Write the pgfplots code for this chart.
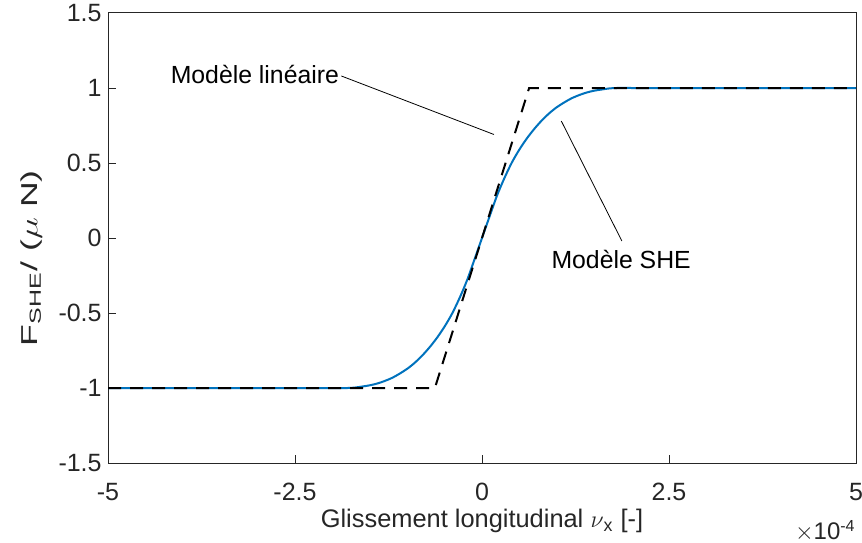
\documentclass[border=0pt]{standalone}
\usepackage{pgfplots}
\pgfplotsset{compat=1.18}
\usetikzlibrary{calc}
\usepackage{fontspec}
\setmainfont{Liberation Sans}
\definecolor{mblue}{rgb}{0,0.447,0.741}
\definecolor{axgray}{rgb}{0.15,0.15,0.15}
\begin{document}
\fontsize{12}{14}\selectfont
\begin{tikzpicture}
\begin{axis}[
  scale only axis,
  width=374pt, height=225pt,
  xmin=-5, xmax=5, ymin=-1.5, ymax=1.5,
  xtick={-5,-2.5,0,2.5,5},
  xticklabels={-5,-2.5,0,2.5,5},
  ytick={-1.5,-1,-0.5,0,0.5,1,1.5},
  yticklabels={-1.5,-1,-0.5,0,0.5,1,1.5},
  tick align=inside,
  xtick pos=bottom, ytick pos=left,
  major tick length=4pt,
  axis line style={line width=0.5pt, axgray},
  tick style={axgray, line width=0.5pt},
  ticklabel style={font=\fontsize{12.5}{14}\selectfont, text=axgray},
  xticklabel style={yshift=-6pt},
  yticklabel style={xshift=1pt},
  /pgf/number format/assume math mode=true,
  xlabel={Glissement longitudinal $\nu$\textsubscript{x} [-]},
  ylabel={\scalebox{1.55}[1]{F\textsubscript{SHE}/ ($\mu$ N)}},
  label style={font=\fontsize{12.7}{14}\selectfont, text=axgray},
  xlabel style={yshift=4pt},
  ylabel style={at={(ticklabel cs:0.455)}, font=\fontsize{11.5}{14}\selectfont},
  clip=false,
]
\addplot[mblue, line width=1pt, smooth] coordinates {
(-5,-1) (-4,-1) (-3,-1) (-2.5,-1) (-2,-1) (-1.8,-1) (-1.7,-0.997) (-1.6,-0.99) (-1.5,-0.982) (-1.4,-0.97)
(-1.3,-0.953) (-1.2,-0.932) (-1.1,-0.904) (-1.0,-0.872) (-0.9,-0.832) (-0.8,-0.784)
(-0.7,-0.728) (-0.6,-0.664) (-0.5,-0.59) (-0.4,-0.504) (-0.3,-0.40) (-0.2,-0.282)
(-0.1,-0.142) (0,0) (0.1,0.142) (0.2,0.282) (0.3,0.40) (0.4,0.504) (0.5,0.59)
(0.6,0.664) (0.7,0.728) (0.8,0.784) (0.9,0.832) (1.0,0.872) (1.1,0.904) (1.2,0.932)
(1.3,0.953) (1.4,0.97) (1.5,0.982) (1.6,0.99) (1.7,0.997) (1.8,1) (2,1) (2.5,1) (3,1) (4,1) (5,1)
};
\addplot[black, line width=1pt, dash pattern=on 6.5pt off 4.5pt] coordinates {
(-5,-1) (-0.63,-1) (0.63,1) (5,1)
};
\draw[line width=0.4pt] (axis cs:-1.88,1.08) -- (axis cs:0.16,0.69);
\node[anchor=east, inner sep=1pt, font=\fontsize{12.4}{14}\selectfont] at (axis cs:-1.88,1.09) {Modèle linéaire};
\draw[line width=0.4pt] (axis cs:1.06,0.78) -- (axis cs:1.87,-0.02);
\node[inner sep=1pt, font=\fontsize{12.4}{14}\selectfont] at (axis cs:1.86,-0.145) {Modèle SHE};
\node[anchor=east, inner sep=0pt, text=axgray, font=\fontsize{12}{14}\selectfont] at ($(rel axis cs:1,0)+(0pt,-34pt)$) {$\times$10\textsuperscript{-4}};
\end{axis}
\path (current axis.south west) ++(-54pt,-39.5pt) coordinate (bl);
\path (current axis.north east) ++(3pt,6.5pt) coordinate (tr);
\pgfresetboundingbox
\path[use as bounding box] (bl) rectangle (tr);
\end{tikzpicture}
\end{document}
